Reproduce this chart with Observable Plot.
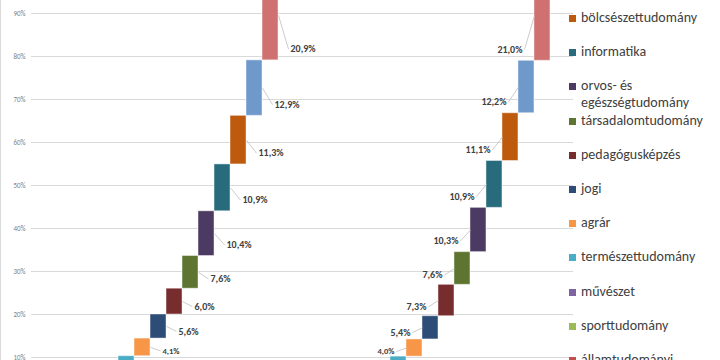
<!DOCTYPE html>
<html>
<head>
<meta charset="utf-8">
<script src="https://cdn.jsdelivr.net/npm/d3@7"></script>
<script src="https://cdn.jsdelivr.net/npm/@observablehq/plot@0.6"></script>
<style>
  html, body { margin: 0; padding: 0; background: #fff; }
  #wrap { position: relative; width: 720px; height: 360px; overflow: hidden; background: #fff; }
  #wrap svg { position: absolute; left: 0; top: 0; }
  #edge { position: absolute; left: 0; top: 0; width: 1px; height: 360px; background: #d9d9d9; }
  #legend { position: absolute; left: 569px; font-family: Carlito, Calibri, Lato, sans-serif; font-size: 14px; color: #404040; }
  .item { position: absolute; left: 0; width: 151px; }
  .sw { position: absolute; left: 0; width: 7px; height: 7px; top: 5px; }
  .lab { position: absolute; left: 12px; width: 138px; line-height: 16.6px; white-space: normal; }
</style>
</head>
<body>
<div id="wrap"><div id="edge"></div><div id="legend"></div></div>
<script>
// Categories, bottom of the stack first
const categories = [
  "államtudományi", "sporttudomány", "művészet", "természettudomány", "agrár", "jogi",
  "pedagógusképzés", "társadalomtudomány", "orvos- és egészségtudomány", "informatika",
  "bölcsészettudomány", "műszaki", "gazdaságtudományi"
];
const colors = [
  "#C0504D", "#9BBB59", "#8064A2", "#4BACC6", "#F79646", "#2D4D76",
  "#772D2D", "#5E7532", "#4B3B62", "#276B7D",
  "#BD5A0E", "#7099CB", "#D07171"
];
// Shares (%) of the two stacks
const seriesA = [0.8, 1.4, 2.4, 5.7, 4.1, 5.6, 6.0, 7.6, 10.4, 10.9, 11.3, 12.9, 20.9];
const seriesB = [0.7, 1.4, 2.3, 5.8, 4.0, 5.4, 7.3, 7.6, 10.3, 10.9, 11.1, 12.2, 21.0];
const yTicks = [10, 20, 30, 40, 50, 60, 70, 80, 90];

const W = 720, H = 360, mL = 31, mR = 147;
const xDomain = [-2.44, 31.44];
const pxPerSlot = (W - mL - mR) / (xDomain[1] - xDomain[0]);
const gap = 12;

const groups = [
  {values: seriesA, start: 0, side: 1},
  {values: seriesB, start: 17, side: -1}
];
const rows = [];
for (const g of groups) {
  let base = 0;
  g.values.forEach((v, i) => {
    const x1 = g.start + i, x2 = x1 + 1;
    const edge = g.side > 0 ? x2 : x1;
    rows.push({
      cat: categories[i], color: colors[i], value: v, x1, x2,
      y1: base, y2: base + v, mid: base + v / 2,
      ly: base + Math.min(v * 0.3, 2.6),
      edge, side: g.side,
      lx: edge + g.side * (gap - 2) / pxPerSlot,
      label: v.toFixed(1).replace(".", ",") + "%"
    });
    base += v;
  });
}
const visible = rows.filter(d => d.value >= 4);

const chart = Plot.plot({
  width: W, height: H,
  marginLeft: mL, marginRight: mR, marginTop: 0, marginBottom: 0,
  style: {fontFamily: "Carlito, Calibri, Lato, sans-serif", background: "transparent"},
  x: {domain: xDomain, axis: null},
  y: {domain: [9.3, 93.02]},
  marks: [
    Plot.gridY(yTicks, {stroke: "#d9d9d9", strokeOpacity: 1, strokeWidth: 1}),
    Plot.axisY(yTicks, {tickSize: 0, tickPadding: 6, tickFormat: d => d + "%", fontSize: 7, fill: "#7f7f7f"}),
    Plot.rect(rows, {x1: "x1", x2: "x2", y1: "y1", y2: "y2", fill: "color", stroke: "#ffffff", strokeOpacity: 0.45, strokeWidth: 1, clip: true}),
    Plot.link(visible, {x1: "edge", y1: "mid", x2: "lx", y2: "ly", stroke: "#bfbfbf", strokeWidth: 0.8, clip: true}),
    Plot.text(visible.filter(d => d.side > 0), {x: "edge", y: "ly", text: "label", dx: gap, textAnchor: "start",
      fontSize: d => d.value < 5 ? 8.5 : 10, fontWeight: "bold", fill: "#404040"}),
    Plot.text(visible.filter(d => d.side < 0), {x: "edge", y: "ly", text: "label", dx: -gap, textAnchor: "end",
      fontSize: d => d.value < 5 ? 8.5 : 10, fontWeight: "bold", fill: "#404040"})
  ]
});
document.getElementById("wrap").prepend(chart);

// Legend: top of the stack first
const legend = document.getElementById("legend");
const order = categories.map((c, i) => i).reverse();
const step = 34.2, firstCenter = 18.3 - 2 * step;
order.forEach((i, k) => {
  const item = document.createElement("div");
  item.className = "item";
  item.style.top = (firstCenter + k * step - 8.3) + "px";
  const sw = document.createElement("div");
  sw.className = "sw";
  sw.style.background = colors[i];
  const lab = document.createElement("div");
  lab.className = "lab";
  lab.textContent = categories[i];
  item.appendChild(sw);
  item.appendChild(lab);
  legend.appendChild(item);
});
</script>
</body>
</html>
